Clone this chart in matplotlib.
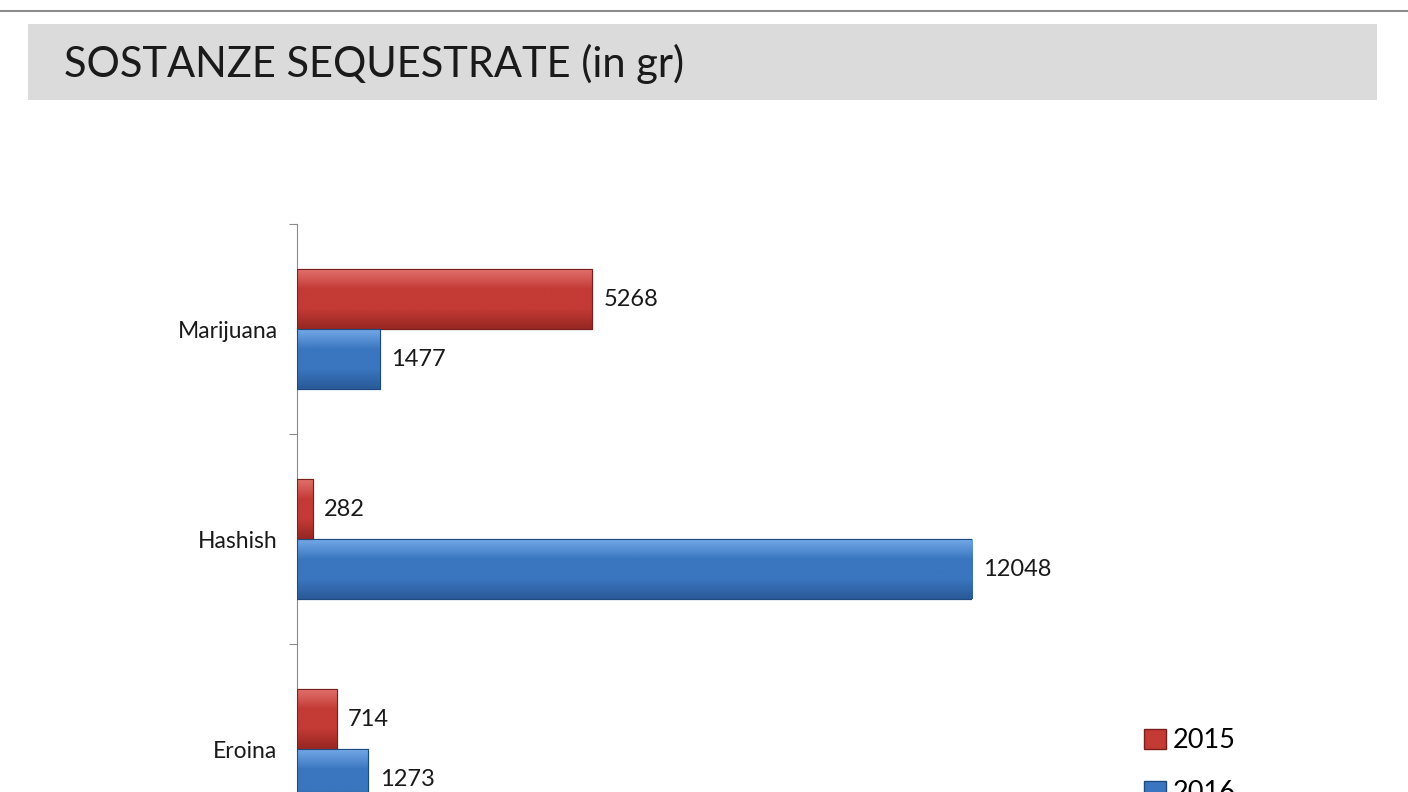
import matplotlib.pyplot as plt
from matplotlib.patches import Rectangle
from matplotlib.lines import Line2D
from matplotlib.colors import LinearSegmentedColormap
import numpy as np

plt.rcParams['font.family'] = ['Lato', 'DejaVu Sans']

categories = ['Marijuana', 'Hashish', 'Eroina']
values_2015 = [5268, 282, 714]
values_2016 = [1477, 12048, 1273]
years = ['2015', '2016']
colors = {'2015': '#c43a35', '2016': '#3a76bf'}
lights = {'2015': '#e0706b', '2016': '#72a8e6'}
darks = {'2015': '#962722', '2016': '#2a5a99'}
edges = {'2015': '#7a1f1c', '2016': '#1f4a80'}

W, H = 1408, 792
fig = plt.figure(figsize=(W / 100, H / 100), dpi=100)

# top rule and title band
fig.add_artist(Line2D([0, 1], [1 - 11 / H, 1 - 11 / H], color='#8c8c8c', lw=1.5))
fig.add_artist(Rectangle((28 / W, 1 - 100 / H), (1377 - 28) / W, 76 / H,
                         color='#dcdbdc', lw=0))
fig.text(64 / W, 1 - 64 / H, 'SOSTANZE SEQUESTRATE (in gr)', fontsize=30,
         va='center', ha='left', color='#1a1a1a')

# axes: category spacing 210 px, top of axis at y=224 px
n = len(categories)
ax_top = 224
ax_h = 210 * n
ax_left, ax_right = 297, 297 + 675
ax = fig.add_axes([ax_left / W, 1 - (ax_top + ax_h) / H,
                   (ax_right - ax_left) / W, ax_h / H])

xmax = 12048
y = np.arange(n) + 0.5
bh = 60 / 210
grad = np.linspace(0, 1, 64).reshape(-1, 1)
for yr, vals, off in (('2015', values_2015, -bh / 2), ('2016', values_2016, bh / 2)):
    cmap = LinearSegmentedColormap.from_list(
        yr, [lights[yr], colors[yr], colors[yr], darks[yr]])
    bars = ax.barh(y + off, vals, height=bh, color=colors[yr],
                   edgecolor=edges[yr], lw=0.8, zorder=3)
    for b in bars:
        x0, y0, w, h = b.get_x(), b.get_y(), b.get_width(), b.get_height()
        ax.imshow(grad, cmap=cmap, aspect='auto', extent=(x0, x0 + w, y0 + h, y0),
                  zorder=3.5, interpolation='bilinear')
        ax.add_patch(Rectangle((x0, y0), w, h, fill=False, ec=edges[yr], lw=0.8,
                               zorder=4))
    for yi, v in zip(y, vals):
        ax.text(v + 200, yi + off, str(v), va='center', ha='left', fontsize=17,
                color='#1a1a1a')
ax.set_xlim(0, xmax)
ax.set_ylim(n, 0)

ax.set_yticks(np.arange(n + 1))
ax.set_yticklabels([])
ax.set_yticks(y, minor=True)
ax.set_yticklabels(categories, minor=True, fontsize=16.5, color='#1a1a1a')
ax.tick_params(axis='y', which='minor', length=0, pad=26 - 12)
ax.tick_params(axis='y', which='major', length=6, color='#8c8c8c')
ax.set_xticks([])
for s in ('top', 'right', 'bottom'):
    ax.spines[s].set_visible(False)
ax.spines['left'].set_color('#8c8c8c')

handles = [Rectangle((0, 0), 1, 1, color=colors[yr], ec=edges[yr]) for yr in years]
fig.legend(handles, years, loc='upper left', bbox_to_anchor=(1120 / W, 1 - 704 / H),
           frameon=False, fontsize=19.5, handlelength=0.8, handleheight=0.8,
           handletextpad=0.25, labelspacing=1.0)

fig.savefig('out.png', dpi=100)
